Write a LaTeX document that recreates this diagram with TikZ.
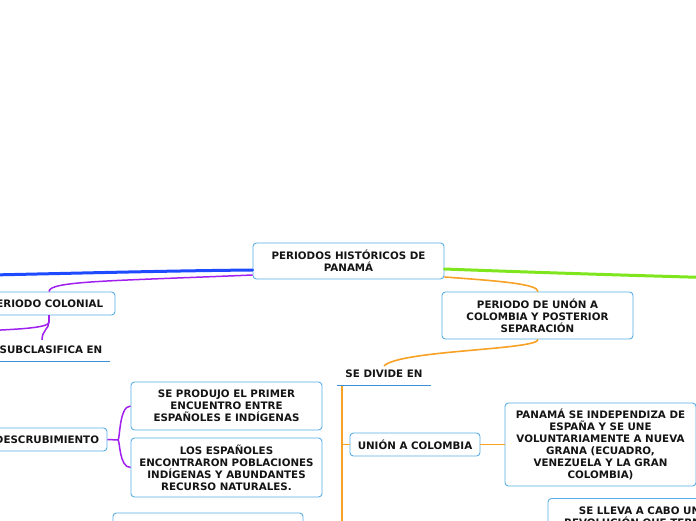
\documentclass[tikz,border=0pt]{standalone}
\usepackage{fontspec}
\setmainfont{DejaVu Sans}
\definecolor{boxblue}{HTML}{5AADE6}
\definecolor{ulblue}{HTML}{3D8FD6}
\definecolor{mainblue}{HTML}{1E4BFF}
\definecolor{lgreen}{HTML}{7FE61E}
\definecolor{lpurple}{HTML}{A020F0}
\definecolor{lorange}{HTML}{F7A125}
\tikzset{
  mbox/.style={draw=boxblue, line width=0.9pt, rounded corners=3.5pt, fill=white,
    inner sep=0pt, align=center, font=\fontsize{10.3}{12}\selectfont\bfseries, text=black!92},
  mlabel/.style={inner sep=0pt, align=center, font=\fontsize{10.3}{12}\selectfont\bfseries, text=black!92},
  uline/.style={draw=ulblue, line width=0.9pt},
  bline/.style={draw=mainblue, line width=3pt, line cap=round},
  gline/.style={draw=lgreen, line width=3pt, line cap=round},
  pline/.style={draw=lpurple, line width=1.5pt},
  oline/.style={draw=lorange, line width=1.6pt},
}
\begin{document}
\begin{tikzpicture}[x=1pt,y=-1pt]
\useasboundingbox (0,0) rectangle (696,520);
\clip (0,0) rectangle (696,520);
\fill[white] (0,0) rectangle (696,520);

% nodes
\node[mbox, minimum width=191pt, minimum height=36pt] (root) at (348.5,261) {PERIODOS HISTÓRICOS DE\\PANAMÁ};
\node[mbox, minimum width=138pt, minimum height=23pt] (colonial) at (46,303.5) {PERIODO COLONIAL};
\node[mlabel] (subclas) at (42,350) {SE SUBCLASIFICA EN};
\coordinate (subulL) at (-26,361);
\coordinate (subulR) at (110,361);
\node[mbox, minimum width=120pt, minimum height=23pt] (descub) at (47,439.5) {DESCRUBIMIENTO};
\node[mbox, minimum width=191pt, minimum height=48pt] (enc) at (226.5,406) {SE PRODUJO EL PRIMER\\ENCUENTRO ENTRE\\ESPAÑOLES E INDÍGENAS};
\node[mbox, minimum width=191pt, minimum height=59pt] (pobl) at (226.5,467.5) {LOS ESPAÑOLES\\ENCONTRARON POBLACIONES\\INDÍGENAS Y ABUNDANTES\\RECURSO NATURALES.};
\node[mbox, minimum width=190pt, minimum height=48pt] (lower) at (208,537) {};

\node[mbox, minimum width=191pt, minimum height=47pt] (union) at (537.5,315.5) {PERIODO DE UNÓN A\\COLOMBIA Y POSTERIOR\\SEPARACIÓN};
\node[mlabel] (divide) at (384,374) {SE DIVIDE EN};
\coordinate (divulL) at (337,385);
\coordinate (divulR) at (431,385);
\node[mbox, minimum width=130pt, minimum height=23pt] (unioncol) at (415,444.5) {UNIÓN A COLOMBIA};
\node[mbox, minimum width=191pt, minimum height=83pt] (panama) at (600.5,444.5) {PANAMÁ SE INDEPENDIZA DE\\ESPAÑA Y SE UNE\\VOLUNTARIAMENTE A NUEVA\\GRANA (ECUADRO,\\VENEZUELA Y LA GRAN\\COLOMBIA)};
\node[mbox, minimum width=191pt, minimum height=60pt, anchor=north] (revol) at (643.5,498) {\rule{0pt}{9pt}SE LLEVA A CABO UNA\\REVOLUCIÓN QUE TERMINA\\\phantom{X}\\\phantom{X}};

% underlines
\draw[uline] (subulL) -- (subulR);
\draw[uline] (divulL) -- (divulR);

% free ends
\coordinate (leftblue) at (-60,276);
\coordinate (rightgreen) at (760,279);
\coordinate (leftpurple) at (-60,332);
\coordinate (colbot) at (49,322);
\coordinate (descj) at (118,440);
\coordinate (vtop) at (342,386);
\coordinate (vbot) at (342,540);

% connectors
\draw[bline] ([yshift=-9pt]root.west) .. controls (150,271) and (50,274) .. (leftblue);
\draw[gline] ([yshift=-8pt]root.east) .. controls (550,273) and (650,276) .. (rightgreen);
\draw[pline] ([yshift=-14pt]root.west) .. controls (110,281) and (49,281) .. ([xshift=3pt]colonial.north);
\draw[oline] ([yshift=-16pt]root.east) .. controls (500,281) and (538,284) .. ([xshift=0.5pt]union.north);

\draw[pline] ([xshift=3pt]colonial.south) -- (colbot);
\draw[pline] (colbot) .. controls (49,328) and (20,330) .. (leftpurple);
\draw[pline] (colbot) .. controls (49,329) and (42,330) .. ([yshift=6pt]subclas.north);

\draw[pline] (descub.east) -- (descj);
\draw[pline] (descj) .. controls (120,440) and (119,406) .. (enc.west);
\draw[pline] (descj) .. controls (120,440) and (119,467.5) .. (pobl.west);

\draw[oline] ([xshift=0.5pt]union.south) .. controls (538,350) and (400,350) .. ([yshift=4pt]divide.north);
\draw[oline] (vtop) -- (vbot);
\draw[oline] (342,444.5) -- (unioncol.west);
\draw[oline] (unioncol.east) -- (panama.west);
\end{tikzpicture}
\end{document}
